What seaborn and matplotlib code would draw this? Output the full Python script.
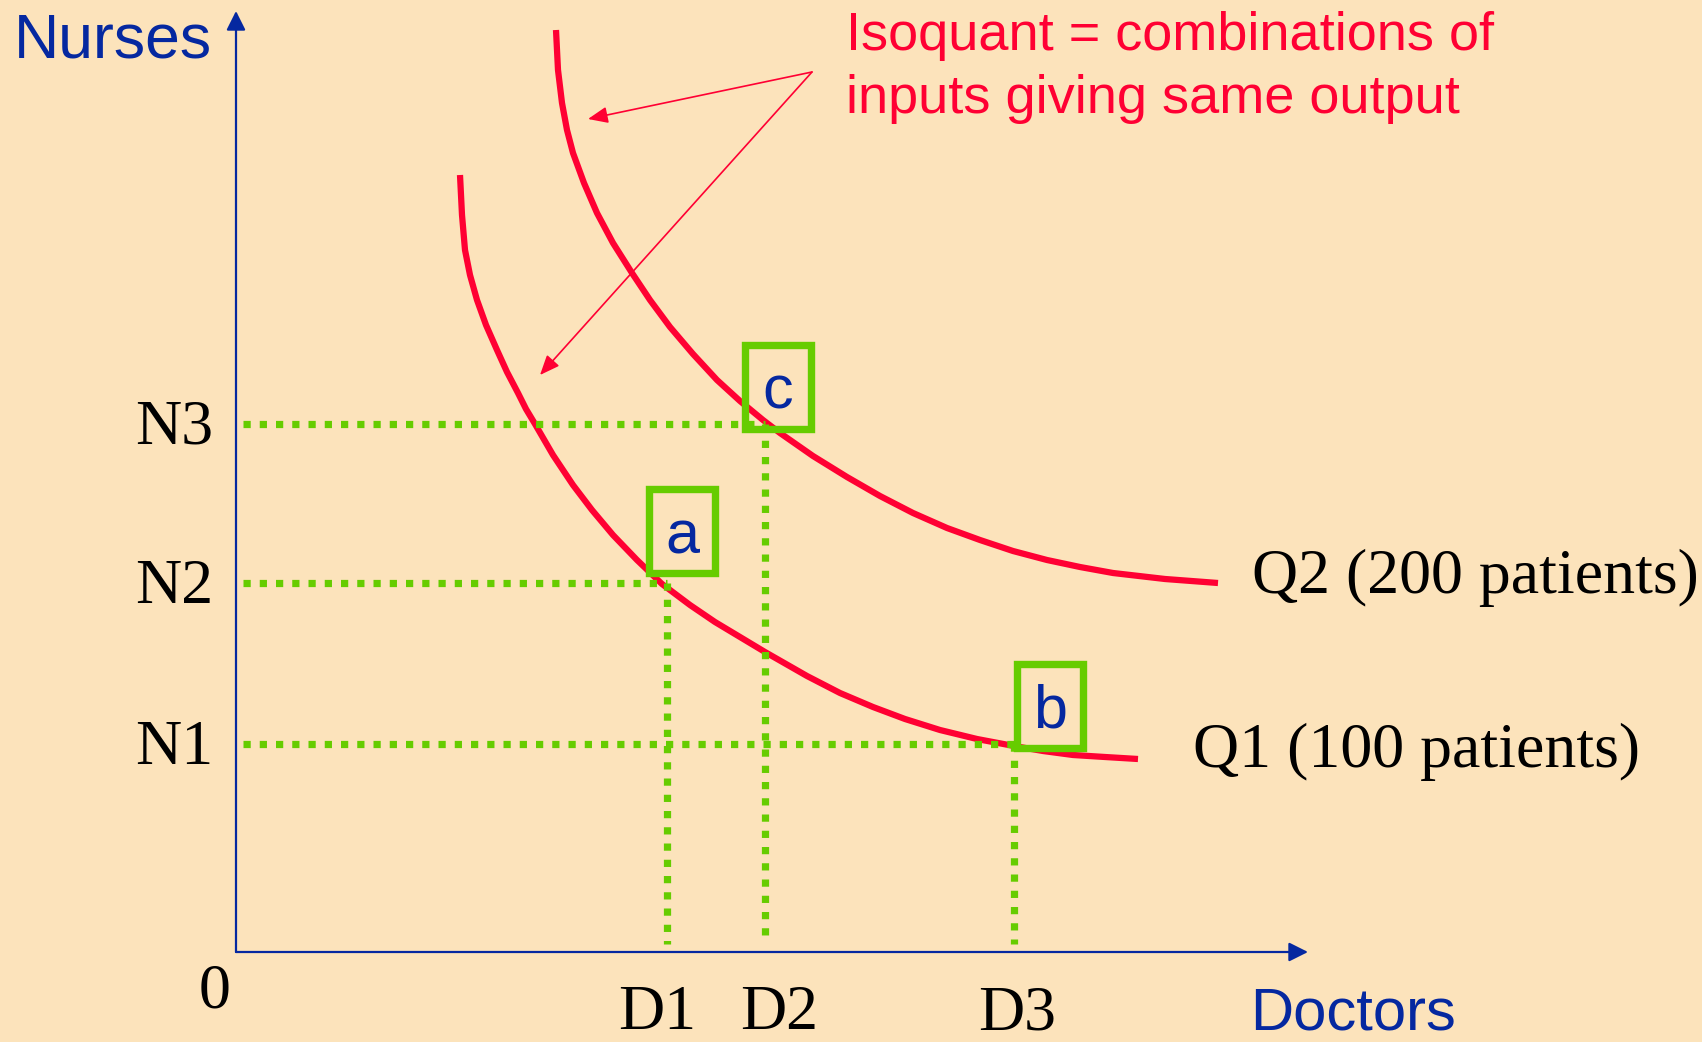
import matplotlib
matplotlib.use('Agg')
import matplotlib.pyplot as plt
import seaborn as sns
from matplotlib.patches import Rectangle

# isoquant curves (doctors, nurses)
q1_doctors = [2.24, 2.26, 2.29, 2.34, 2.41, 2.50, 2.61, 2.71, 2.82, 2.90, 2.99, 3.17, 3.37, 3.56,
              3.77, 4.01, 4.26, 4.54, 4.79, 5.04, 5.29, 5.71, 6.04, 6.37, 6.69, 7.04, 7.41, 7.78,
              8.07, 8.37, 8.69, 9.02]
q1_nurses = [7.77, 7.37, 7.02, 6.77, 6.52, 6.27, 6.02, 5.80, 5.59, 5.43, 5.28, 4.97, 4.67, 4.42,
             4.17, 3.92, 3.68, 3.47, 3.30, 3.15, 3.00, 2.76, 2.59, 2.45, 2.33, 2.22, 2.13, 2.06,
             2.01, 1.97, 1.95, 1.93]
q2_doctors = [3.20, 3.22, 3.26, 3.31, 3.37, 3.48, 3.61, 3.77, 3.96, 4.14, 4.34, 4.57, 4.81, 5.04,
              5.27, 5.44, 5.77, 6.11, 6.44, 6.77, 7.11, 7.44, 7.77, 8.11, 8.44, 8.77, 9.29, 9.82]
q2_nurses = [9.22, 8.82, 8.49, 8.22, 7.99, 7.69, 7.39, 7.09, 6.79, 6.52, 6.25, 5.98, 5.72, 5.51,
             5.32, 5.19, 4.96, 4.75, 4.56, 4.39, 4.24, 4.12, 4.01, 3.92, 3.85, 3.79, 3.73, 3.69]

doctor_levels = [4.31, 5.29, 7.78]
doctor_labels = ['D1', 'D2', 'D3']
nurse_levels = [2.08, 3.69, 5.28]
nurse_labels = ['N1', 'N2', 'N3']

# points a, c, b -> (doctor index, nurse index)
point_names = ['a', 'c', 'b']
point_doc = [0, 1, 2]
point_nur = [1, 2, 0]

curve_labels = ['Q1 (100 patients)', 'Q2 (200 patients)']
note_lines = ['Isoquant = combinations of', 'inputs giving same output']

bg = '#FCE3BB'
red = '#FF0033'
green = '#66CC00'
blue = '#0528A0'
sans = ['Liberation Sans', 'DejaVu Sans']
serif = ['Liberation Serif', 'DejaVu Serif']

sns.set_theme(style='white')
plt.rcParams['font.family'] = sans
plt.rcParams['text.color'] = 'black'

fig = plt.figure(figsize=(17.02, 10.42), dpi=100)
fig.patch.set_facecolor(bg)
ax = fig.add_axes([0, 0, 1, 1])
ax.set_facecolor(bg)
ax.set_xlim(-2.36, 14.66)
ax.set_ylim(-0.90, 9.52)
ax.axis('off')

# axes with arrow heads
axis_arrow = dict(arrowstyle='-|>,head_length=0.58,head_width=0.29', mutation_scale=20,
                  color=blue, lw=1.6, shrinkA=0, shrinkB=0)
ax.annotate('', xy=(0, 9.41), xytext=(0, 0), arrowprops=axis_arrow)
ax.annotate('', xy=(10.72, 0), xytext=(0, 0), arrowprops=axis_arrow)

# isoquants
sns.lineplot(x=q1_doctors, y=q1_nurses, ax=ax, color=red, lw=4.5, sort=False,
             estimator=None, solid_capstyle='butt', solid_joinstyle='round', zorder=3)
sns.lineplot(x=q2_doctors, y=q2_nurses, ax=ax, color=red, lw=4.5, sort=False,
             estimator=None, solid_capstyle='butt', solid_joinstyle='round', zorder=3)

# dotted guides and boxed points
box_dx = [-0.22, -0.24, -0.01]
box_dy = [0.06, -0.09, -0.08]
box_w, box_h = 0.74, 0.92
dots = (0, (1.0, 1.25))
for i, name in enumerate(point_names):
    d = doctor_levels[point_doc[i]]
    n = nurse_levels[point_nur[i]]
    ax.plot([0.07, d], [n, n], color=green, lw=5.2, ls=dots, dash_capstyle='butt', zorder=4)
    ax.plot([d, d], [n, 0.08], color=green, lw=5.2, ls=dots, dash_capstyle='butt', zorder=4)
    x0 = d + box_dx[i]
    y0 = n + box_dy[i]
    ax.add_patch(Rectangle((x0 + 0.036, y0 + 0.036), box_w - 0.072, box_h - 0.072,
                           fill=False, ec=green, lw=5.3, joinstyle='miter', zorder=5))
    ax.text(x0 + box_w / 2, y0 + 0.24, name, color=blue, fontsize=44, ha='center',
            va='baseline', zorder=6)

# tick-like labels
label_shift = [-0.10, 0.14, 0.03]
for n, lab in zip(nurse_levels, nurse_labels):
    ax.text(-0.23, n - 0.20, lab, family=serif, fontsize=46, ha='right', va='baseline')
for d, s, lab in zip(doctor_levels, label_shift, doctor_labels):
    ax.text(d + s, -0.77, lab, family=serif, fontsize=46, ha='center', va='baseline')
ax.text(-0.21, -0.55, '0', family=serif, fontsize=46, ha='center', va='baseline')

ax.text(-2.22, 8.95, 'Nurses', color=blue, fontsize=45, ha='left', va='baseline')
ax.text(10.14, -0.77, 'Doctors', color=blue, fontsize=43, ha='left', va='baseline')

ax.text(9.57, 1.85, curve_labels[0], family=serif, fontsize=46, ha='left', va='baseline')
ax.text(10.16, 3.59, curve_labels[1], family=serif, fontsize=46, ha='left', va='baseline')

# note with two arrows
ax.text(6.10, 9.02, note_lines[0], color=red, fontsize=39, ha='left', va='baseline')
ax.text(6.10, 8.39, note_lines[1], color=red, fontsize=39, ha='left', va='baseline')
note_arrow = dict(arrowstyle='-|>,head_length=0.6,head_width=0.25', mutation_scale=20,
                  color=red, lw=1.2, shrinkA=0, shrinkB=0)
ax.annotate('', xy=(3.52, 8.33), xytext=(5.76, 8.80), arrowprops=note_arrow)
ax.annotate('', xy=(3.04, 5.77), xytext=(5.76, 8.80), arrowprops=note_arrow)

fig.savefig('out.png', dpi=100, facecolor=bg)
